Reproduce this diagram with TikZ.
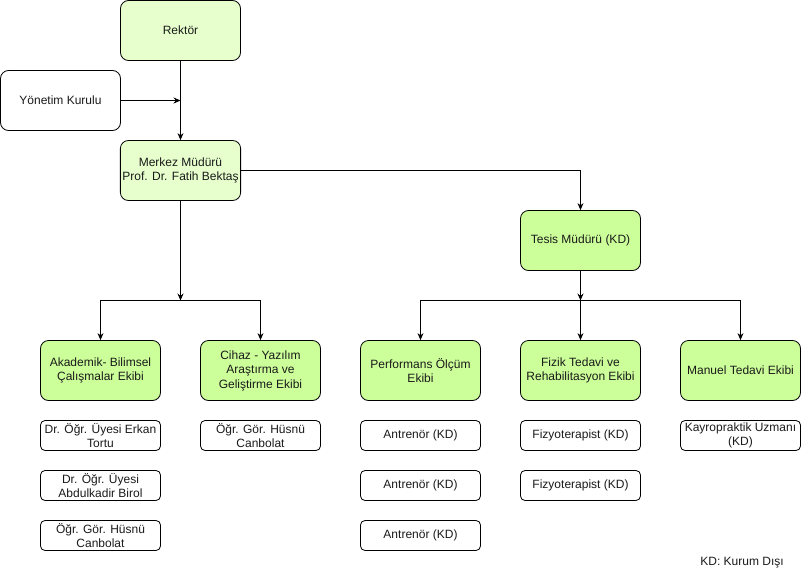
\documentclass[tikz,border=0pt]{standalone}
\usepackage{fontspec}
\setmainfont{Liberation Sans}
\usetikzlibrary{arrows.meta}
\definecolor{lightgreen}{HTML}{E6FFCC}
\definecolor{teamgreen}{HTML}{CCFF99}
\definecolor{inkgray}{HTML}{1A1A1A}
\tikzset{
  bigbox/.style={draw=black, line width=0.8pt, rounded corners=8pt, minimum width=120pt,
    minimum height=60pt, align=center, inner sep=2pt, font=\fontsize{12}{14.5}\selectfont, text=inkgray},
  smallbox/.style={draw=black, line width=0.8pt, rounded corners=4.5pt, minimum width=120pt,
    minimum height=30pt, align=center, inner sep=1pt, font=\fontsize{12}{14}\selectfont, text=inkgray},
  link/.style={line width=0.8pt, -{Stealth[length=7pt,width=6pt]}}
}
\begin{document}
\begin{tikzpicture}[x=1pt,y=-1pt]
\useasboundingbox (0,0) rectangle (801,581);

% top levels
\node[bigbox, fill=lightgreen] (rektor) at (180.5,30.5) {Rektör};
\node[bigbox, fill=white] (yonetim) at (60.5,100.5) {Yönetim Kurulu};
\node[bigbox, fill=lightgreen] (merkez) at (180.5,170.5) {Merkez Müdürü\\Prof. Dr. Fatih Bektaş};
\node[bigbox, fill=teamgreen] (tesis) at (580.5,240.5) {Tesis Müdürü (KD)};

% teams
\node[bigbox, fill=teamgreen] (akademik) at (100.5,370.5) {Akademik- Bilimsel\\Çalışmalar Ekibi};
\node[bigbox, fill=teamgreen] (cihaz) at (260.5,370.5) {Cihaz - Yazılım\\Araştırma ve\\Geliştirme Ekibi};
\node[bigbox, fill=teamgreen] (performans) at (420.5,370.5) {Performans Ölçüm\\Ekibi};
\node[bigbox, fill=teamgreen] (fizik) at (580.5,370.5) {Fizik Tedavi ve\\Rehabilitasyon Ekibi};
\node[bigbox, fill=teamgreen] (manuel) at (740.5,370.5) {Manuel Tedavi Ekibi};

% members
\node[smallbox] (erkan) at (100.5,435.5) {Dr. Öğr. Üyesi Erkan\\Tortu};
\node[smallbox] (birol) at (100.5,485.5) {Dr. Öğr. Üyesi\\Abdulkadir Birol};
\node[smallbox] (husnua) at (100.5,535.5) {Öğr. Gör. Hüsnü\\Canbolat};
\node[smallbox] (husnub) at (260.5,435.5) {Öğr. Gör. Hüsnü\\Canbolat};
\node[smallbox] (antrenora) at (420.5,435.5) {Antrenör (KD)};
\node[smallbox] (antrenorb) at (420.5,485.5) {Antrenör (KD)};
\node[smallbox] (antrenorc) at (420.5,535.5) {Antrenör (KD)};
\node[smallbox] (fizyoa) at (580.5,435.5) {Fizyoterapist (KD)};
\node[smallbox] (fizyob) at (580.5,485.5) {Fizyoterapist (KD)};
\node[smallbox] (kayro) at (740.5,435.5) {Kayropraktik Uzmanı\\(KD)};

\node[font=\fontsize{12}{14}\selectfont, text=inkgray] (kdnote) at (742,563) {KD: Kurum Dışı};

% connectors
\coordinate (kurulj) at (rektor.south |- yonetim.east);
\coordinate (merkezj) at (180.5,300.5);
\coordinate (tesisj) at (580.5,300.5);

\draw[link] (rektor) -- (merkez);
\draw[link] (yonetim) -- (kurulj);
\draw[link] (merkez) -- (merkezj);
\draw[link] (merkezj) -| (akademik);
\draw[link] (merkezj) -| (cihaz);
\draw[link] (merkez.east) -| (tesis);
\draw[link] (tesis) -- (tesisj);
\draw[link] (tesisj) -| (performans);
\draw[link] (tesisj) -- (fizik);
\draw[link] (tesisj) -| (manuel);
\end{tikzpicture}
\end{document}
